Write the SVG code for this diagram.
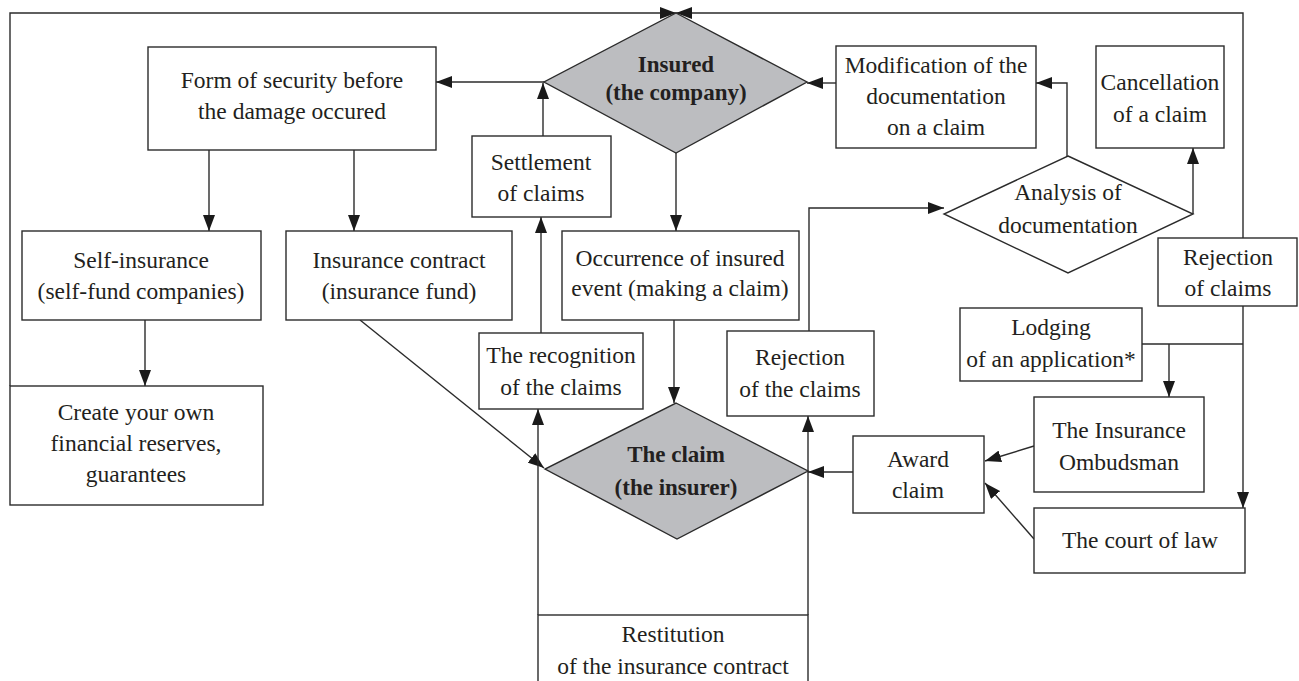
<svg xmlns="http://www.w3.org/2000/svg" width="1299" height="681" viewBox="0 0 1299 681">
<defs>
<style>
.box{fill:#fff;stroke:#2b2b2b;stroke-width:1.4}
.dia{fill:#bcbdc0;stroke:#2b2b2b;stroke-width:1.4}
.diaw{fill:#fff;stroke:#2b2b2b;stroke-width:1.4}
.ln{fill:none;stroke:#2b2b2b;stroke-width:1.4}
.ar{marker-end:url(#ah)}
text{font-family:"Liberation Serif","Times New Roman",serif;font-size:23.5px;fill:#231f20;text-anchor:middle}
.b{font-weight:bold;font-size:23px}
</style>
<marker id="ah" markerUnits="userSpaceOnUse" markerWidth="16" markerHeight="12" refX="16" refY="6" orient="auto">
<path d="M0,0 L16,6 L0,12 z" fill="#1a1a1a"/>
</marker>
</defs>
<rect width="1299" height="681" fill="#fff"/>
<g id="connectors">
<path class="ln ar" d="M10,386 V13 H676"/>
<path class="ln ar" d="M1243,238 V13 H676"/>
<path class="ln ar" d="M544,82 H436"/>
<path class="ln ar" d="M543,136 V83"/>
<path class="ln ar" d="M836,83 H807"/>
<path class="ln ar" d="M1067,156 V83 H1036"/>
<path class="ln ar" d="M1193,214 V148"/>
<path class="ln ar" d="M809,331 V208 H944"/>
<path class="ln ar" d="M209,150 V231"/>
<path class="ln ar" d="M354,150 V231"/>
<path class="ln ar" d="M676,153 V231"/>
<path class="ln ar" d="M145,320 V386"/>
<path class="ln ar" d="M360,320 L544,468"/>
<path class="ln ar" d="M674,320 V403"/>
<path class="ln ar" d="M541,333 V217"/>
<path class="ln ar" d="M538,615 V409"/>
<path class="ln ar" d="M808,615 V416"/>
<path class="ln ar" d="M853,472 H808"/>
<path class="ln ar" d="M1034,446 L985,461"/>
<path class="ln ar" d="M1034,539 L985,483"/>
<path class="ln" d="M1142,344 H1243"/>
<path class="ln ar" d="M1169,344 V397"/>
<path class="ln ar" d="M1243,306 V508"/>
</g>
<g id="insured">
<polygon class="dia" points="676,13 807,82 676,153 544,82"/>
<text class="b" x="676" y="72">Insured</text>
<text class="b" x="676" y="100">(the company)</text>
</g>
<g id="form">
<rect class="box" x="148" y="47" width="288" height="103"/>
<text x="292" y="88">Form of security before</text>
<text x="292" y="119">the damage occured</text>
</g>
<g id="modification">
<rect class="box" x="836" y="46" width="200" height="102"/>
<text x="936" y="73">Modification of the</text>
<text x="936" y="104">documentation</text>
<text x="936" y="135">on a claim</text>
</g>
<g id="cancellation">
<rect class="box" x="1096" y="46" width="128" height="102"/>
<text x="1160" y="90">Cancellation</text>
<text x="1160" y="122">of a claim</text>
</g>
<g id="settlement">
<rect class="box" x="472" y="136" width="139" height="81"/>
<text x="541" y="170">Settlement</text>
<text x="541" y="201">of claims</text>
</g>
<g id="analysis">
<polygon class="diaw" points="1068,156 1193,214 1068,273 944,214"/>
<text x="1068" y="200">Analysis of</text>
<text x="1068" y="233">documentation</text>
</g>
<g id="self-insurance">
<rect class="box" x="22" y="231" width="239" height="89"/>
<text x="141" y="268">Self-insurance</text>
<text x="141" y="299">(self-fund companies)</text>
</g>
<g id="insurance-contract">
<rect class="box" x="286" y="231" width="226" height="89"/>
<text x="399" y="268">Insurance contract</text>
<text x="399" y="299">(insurance fund)</text>
</g>
<g id="occurrence">
<rect class="box" x="562" y="231" width="237" height="89"/>
<text x="680" y="266">Occurrence of insured</text>
<text x="680" y="296">event (making a claim)</text>
</g>
<g id="rejection-claims">
<rect class="box" x="1158" y="238" width="139" height="68"/>
<text x="1228" y="265">Rejection</text>
<text x="1228" y="296">of claims</text>
</g>
<g id="lodging">
<rect class="box" x="960" y="308" width="182" height="73"/>
<text x="1051" y="335">Lodging</text>
<text x="1051" y="367">of an application*</text>
</g>
<g id="recognition">
<rect class="box" x="479" y="333" width="164" height="76"/>
<text x="561" y="363">The recognition</text>
<text x="561" y="395">of the claims</text>
</g>
<g id="rejection-the-claims">
<rect class="box" x="727" y="331" width="147" height="85"/>
<text x="800" y="365">Rejection</text>
<text x="800" y="397">of the claims</text>
</g>
<g id="create">
<rect class="box" x="10" y="386" width="253" height="119"/>
<text x="136" y="420">Create your own</text>
<text x="136" y="451">financial reserves,</text>
<text x="136" y="482">guarantees</text>
</g>
<g id="claim">
<polygon class="dia" points="676,403 808,471 677,539 545,469"/>
<text class="b" x="676" y="462">The claim</text>
<text class="b" x="676" y="495">(the insurer)</text>
</g>
<g id="ombudsman">
<rect class="box" x="1034" y="397" width="170" height="95"/>
<text x="1119" y="438">The Insurance</text>
<text x="1119" y="470">Ombudsman</text>
</g>
<g id="award">
<rect class="box" x="853" y="436" width="131" height="77"/>
<text x="918" y="467">Award</text>
<text x="918" y="498">claim</text>
</g>
<g id="court">
<rect class="box" x="1034" y="508" width="211" height="65"/>
<text x="1140" y="548">The court of law</text>
</g>
<g id="restitution">
<rect class="box" x="538" y="615" width="270" height="90"/>
<text x="673" y="642">Restitution</text>
<text x="673" y="674">of the insurance contract</text>
</g>
</svg>
